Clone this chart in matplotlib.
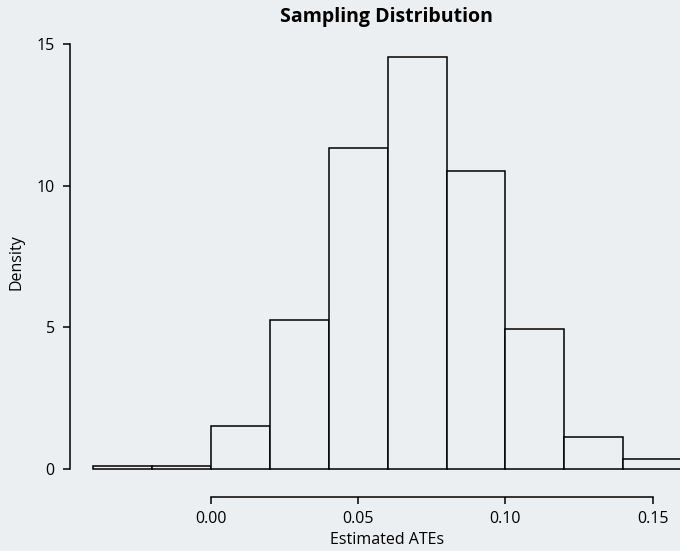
import matplotlib.pyplot as plt
import numpy as np

plt.rcParams['font.family'] = ['Open Sans', 'DejaVu Sans']

# histogram of estimated ATEs (density scale), bins of width 0.02
bin_edges = [-0.04, -0.02, 0.00, 0.02, 0.04, 0.06, 0.08, 0.10, 0.12, 0.14, 0.16]
density = [0.1, 0.1, 1.52, 5.26, 11.33, 14.54, 10.52, 4.94, 1.13, 0.35]
xticks = [0.00, 0.05, 0.10, 0.15]
xtick_labels = ['0.00', '0.05', '0.10', '0.15']
yticks = [0, 5, 10, 15]

bg = '#ECEFF1'
W, H = 680, 551
fig = plt.figure(figsize=(W / 100, H / 100), dpi=100, facecolor=bg)

# axes placed in pixel coords
left, right, bottom, top = 70, 680, 469, 30
ax = fig.add_axes([left / W, 1 - bottom / H, (right - left) / W, (bottom - top) / H])
ax.set_facecolor(bg)

edges = np.array(bin_edges)
ax.bar(edges[:-1], density, width=np.diff(edges), align='edge',
       facecolor=bg, edgecolor='black', linewidth=1.1, clip_on=False)

ax.set_xlim(-0.0479, 0.1593)
ax.set_ylim(0, 15.5)

for s in ['top', 'right']:
    ax.spines[s].set_visible(False)
ax.spines['bottom'].set_position(('outward', 20))
ax.spines['bottom'].set_bounds(0, 0.15)
ax.spines['left'].set_bounds(0, 15)
for s in ['bottom', 'left']:
    ax.spines[s].set_linewidth(1.1)

ax.set_xticks(xticks)
ax.set_xticklabels(xtick_labels)
ax.set_yticks(yticks)
ax.tick_params(axis='both', length=5, width=1.1, labelsize=11.5, color='black')
ax.tick_params(axis='x', pad=5)
ax.tick_params(axis='y', pad=6)

fig.text(387 / W, 1 - 540 / H, 'Estimated ATEs', ha='center', va='center', fontsize=11.5)
fig.text(17 / W, 1 - 262 / H, 'Density', ha='center', va='center', rotation=90, fontsize=11.5)
fig.text(386 / W, 1 - 17 / H, 'Sampling Distribution', ha='center', va='center',
         fontsize=14, fontweight='bold')

fig.savefig('out.png', dpi=100, facecolor=bg)
